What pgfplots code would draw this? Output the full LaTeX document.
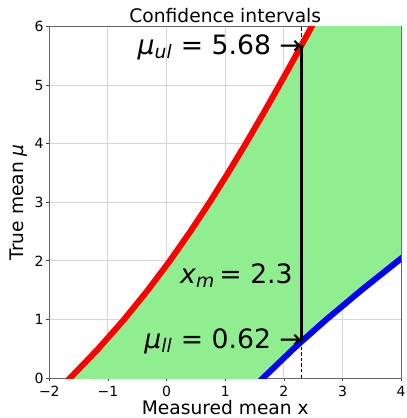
\documentclass[border=0pt]{standalone}
\usepackage{pgfplots}
\pgfplotsset{compat=1.18}
\usepackage{fontspec}
\setmainfont{DejaVu Sans}
\definecolor{lgreen}{RGB}{144,238,144}

\begin{document}
\begin{tikzpicture}
\begin{axis}[
  scale only axis,
  width=264pt, height=263.6pt,
  xmin=-2, xmax=4, ymin=0, ymax=6,
  xtick={-2,-1,0,1,2,3,4},
  xticklabels={−2,−1,0,1,2,3,4},
  ytick={0,1,2,3,4,5,6},
  yticklabels={0,1,2,3,4,5,6},
  tick label style={font=\fontsize{10.5}{12}\selectfont},
  xticklabel style={inner sep=3.6pt},
  yticklabel style={inner sep=1.5pt},
  xtick pos=bottom, ytick pos=left,
  tick align=outside,
  major tick length=2.6pt,
  tick style={black!75, line width=0.6pt},
  axis line style={black!60, line width=0.6pt},
  grid=major,
  grid style={black!16, line width=0.75pt},
  title={Confidence intervals},
  title style={font=\fontsize{14}{17}\selectfont, at={(0.5,1)}, anchor=base, yshift=-3pt, inner sep=0pt},
  xlabel={Measured mean x},
  xlabel style={font=\fontsize{14}{17}\selectfont, at={(axis description cs:0.5,0)}, anchor=base, yshift=-27.5pt, inner sep=0pt},
  ylabel={True mean \textit{μ}},
  ylabel style={font=\fontsize{14}{17}\selectfont, at={(axis description cs:0,0.5)}, anchor=base, yshift=19.5pt, inner sep=0pt},
]
% green band between the two limits
\addplot[draw=none, fill=lgreen] coordinates {
  (-1.952,-0.3) (-1.645,0) (-1.165,0.5) (-0.725,1) (-0.321,1.5) (0.054,2)
  (0.403,2.5) (0.733,3) (1.046,3.5) (1.348,4) (1.639,4.5) (1.922,5)
  (2.200,5.5) (2.298,5.68) (2.472,6) (2.740,6.5)
  (4.600,6.5)
  (4.597,2.5) (3.946,2) (3.321,1.5) (2.725,1) (2.296,0.62) (2.165,0.5)
  (1.645,0) (1.352,-0.3) (-1.952,-0.3)
};
% dashed measured value
\addplot[black, line width=0.75pt, dash pattern=on 2.6pt off 1.6pt] coordinates {(2.3,0) (2.3,6)};
% upper limit curve
\addplot[red, line width=4.5pt] coordinates {
  (-1.952,-0.3) (-1.645,0) (-1.165,0.5) (-0.725,1) (-0.321,1.5) (0.054,2)
  (0.403,2.5) (0.733,3) (1.046,3.5) (1.348,4) (1.639,4.5) (1.922,5)
  (2.200,5.5) (2.298,5.68) (2.472,6) (2.740,6.5)
};
% lower limit curve
\addplot[blue, line width=4.5pt] coordinates {
  (1.352,-0.3) (1.645,0) (2.165,0.5) (2.296,0.62) (2.725,1) (3.321,1.5)
  (3.946,2) (4.597,2.5)
};
% interval
\addplot[black, line width=2.25pt] coordinates {(2.3,0.62) (2.3,5.68)};

\node[anchor=base east, inner sep=0pt, font=\fontsize{20}{24}\selectfont]
  at (axis cs:2.31,5.53) {\textit{μ}\textsubscript{\textit{ul}} = 5.68 →};
\node[anchor=base east, inner sep=0pt, font=\fontsize{20}{24}\selectfont]
  at (axis cs:2.154,1.617) {\textit{x}\textsubscript{\textit{m}}\,= 2.3};
\node[anchor=base east, inner sep=0pt, font=\fontsize{20}{24}\selectfont]
  at (axis cs:2.31,0.507) {\textit{μ}\textsubscript{\textit{ll}} = 0.62 →};
\end{axis}
\pgfresetboundingbox
\path[use as bounding box] (current axis.south west) ++(-37pt,-30pt) rectangle ([shift={(3.75pt,20pt)}]current axis.north east);
\end{tikzpicture}
\end{document}
